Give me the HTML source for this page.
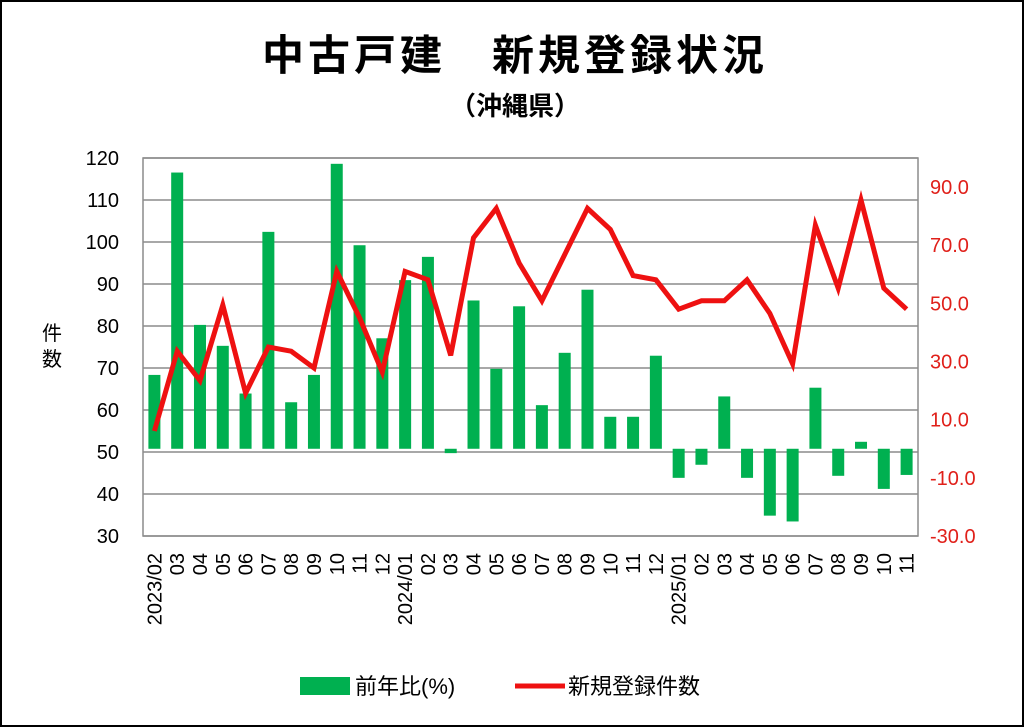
<!DOCTYPE html>
<html><head><meta charset="utf-8"><style>
html,body{margin:0;padding:0;background:#fff}
svg{display:block}
text{font-family:"Liberation Sans","Noto Sans CJK JP",sans-serif}
</style></head><body>
<svg id="chart" width="1024" height="727" viewBox="0 0 1024 727">
<rect x="1" y="1" width="1022" height="725" fill="#fff" stroke="#000" stroke-width="2"/>
<text x="515" y="70" text-anchor="middle" font-size="42" font-weight="bold" letter-spacing="4">中古戸建　新規登録状況</text>
<text x="515" y="115" text-anchor="middle" font-size="26" font-weight="bold">（沖縄県）</text>
<g id="grid"></g><g id="bars"></g><g id="line"></g><g id="axes"></g>
<text x="52" y="340" text-anchor="middle" font-size="20"><tspan x="52" y="340">件</tspan><tspan x="52" y="366">数</tspan></text>
<rect x="300" y="677" width="50" height="18" fill="#00b050"/>
<text x="355" y="694" font-size="22">前年比(%)</text>
<line x1="515" y1="686" x2="565" y2="686" stroke="#ee1111" stroke-width="5"/>
<text x="568" y="694" font-size="22">新規登録件数</text>
</svg>
<script>
const categories=["2023/02","03","04","05","06","07","08","09","10","11","12","2024/01","02","03","04","05","06","07","08","09","10","11","12","2025/01","02","03","04","05","06","07","08","09","10","11"];
const countValues=[55,74,67,85,64,75,74,70,93,82,69,93,91,73,101,108,95,86,97,108,103,92,91,84,86,86,91,83,71,104,89,110,89,84];
const yoyValues=[25.4,95,42.6,35.4,19,74.6,16,25.4,98,70,38,58,66,-1.5,51,27.5,49,15,33,54.7,11,11,32,-10,-5.5,18,-10,-23,-25,21,-9.3,2.4,-13.8,-9];
const leftTicks=[30,40,50,60,70,80,90,100,110,120];
const rightTicks=[-30,-10,10,30,50,70,90];
const L=143,R=918,T=158,B=536;
const ns="http://www.w3.org/2000/svg";
function yL(v){return B-(v-30)/90*(B-T);}
function yR(v){return B-(v+30)/130*(B-T);}
const step=(R-L)/categories.length;
function xC(i){return L+step*(i+0.5);}
function mk(tag,attrs,parent){const e=document.createElementNS(ns,tag);for(const k in attrs)e.setAttribute(k,attrs[k]);document.getElementById(parent).appendChild(e);return e;}
leftTicks.forEach(t=>{
 const g=mk("line",{x1:L,x2:R,y1:yL(t),y2:yL(t),stroke:"#8c8c8c","stroke-width":1.5},"grid");
 
 
 const tx=mk("text",{x:L-24,y:yL(t)+7,"text-anchor":"end","font-size":20},"axes");
 tx.textContent=t;
 
 
});
rightTicks.forEach(t=>{
 const tx=mk("text",{x:R+12,y:yR(t)+7,"font-size":20,fill:"#e0201a"},"axes");
 tx.textContent=t.toFixed(1);
 
 
});
const fr=mk("rect",{x:L,y:T,width:R-L,height:B-T,fill:"none",stroke:"#8c8c8c","stroke-width":1.5},"axes");


const bw=12;
yoyValues.forEach((v,i)=>{
 const y0=yR(0),y1=yR(v);
 const r=mk("rect",{x:xC(i)-bw/2,y:Math.min(y0,y1),width:bw,height:Math.max(Math.abs(y1-y0),1),fill:"#00b050"},"bars");
 
 
});
const pts=countValues.map((v,i)=>xC(i).toFixed(1)+","+yL(v).toFixed(1)).join(" ");
const pl=mk("polyline",{points:pts,fill:"none",stroke:"#ee1111","stroke-width":5,"stroke-linejoin":"miter"},"line");


categories.forEach((c,i)=>{
 const x=xC(i)+7,y=553;
 const tx=mk("text",{x:x,y:y,"font-size":20,"text-anchor":"end",transform:"rotate(-90 "+x+" "+y+")"},"axes");
 tx.textContent=c;
 
 
});
</script>
</body></html>
